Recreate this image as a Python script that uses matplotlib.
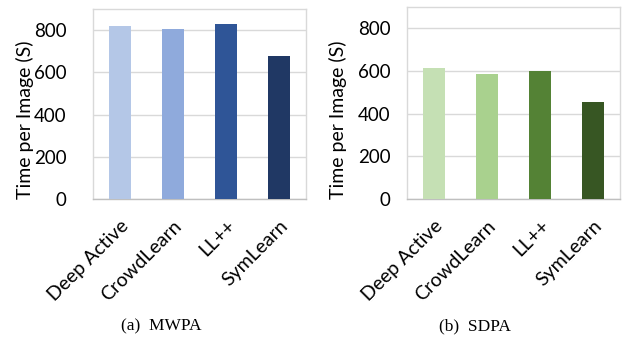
import matplotlib.pyplot as plt
import numpy as np

# --- DATA ---
methods = ['Deep Active', 'CrowdLearn', 'LL++', 'SymLearn']
mwpa_times = [819, 805, 830, 677]
sdpa_times = [612, 587, 599, 456]
y_ticks = [0, 200, 400, 600, 800]
captions = ['(a)  MWPA', '(b)  SDPA']

blues = ['#B4C7E7', '#8FAADC', '#2F5597', '#203864']
greens = ['#C5E0B4', '#A9D18E', '#548235', '#375623']

W, H = 622, 341
fig = plt.figure(figsize=(W / 100, H / 100), dpi=100)

# axes boxes in pixels: left, top, right, bottom
boxes = [(93, 9, 306, 199), (407, 7, 620, 199)]
ypads = [19, 12]
cap_x = [161, 475]
label_x = [34, 347]

for (l, t, r, b), vals, cols, cap, yp, cx, lx in zip(
        boxes, [mwpa_times, sdpa_times], [blues, greens], captions, ypads, cap_x, label_x):
    ax = fig.add_axes([l / W, 1 - b / H, (r - l) / W, (b - t) / H])
    x = np.arange(len(methods))
    ax.bar(x, vals, width=0.41, color=cols, zorder=3)
    ax.set_xlim(-0.5, len(methods) - 0.5)
    ax.set_ylim(0, 900)
    ax.set_yticks(y_ticks)
    ax.set_yticklabels([str(v) for v in y_ticks], fontsize=13.5, family='Lato')
    ax.set_xticks(x)
    ax.set_xticklabels(methods, rotation=45, ha='right', rotation_mode='anchor',
                       fontsize=14, family='Lato')
    ax.tick_params(axis='x', length=0, pad=13)
    ax.tick_params(axis='y', length=0, pad=yp)
    ax.yaxis.grid(True, color='#D9D9D9', linewidth=1, zorder=0)
    for s in ax.spines.values():
        s.set_color('#D9D9D9')
        s.set_linewidth(1)
    ax.spines['bottom'].set_color('#BFBFBF')
    ax.set_ylabel('Time per Image (S)', fontsize=14, family='Lato')
    ax.yaxis.set_label_coords((lx - l) / (r - l), (b - 120) / (b - t))
    fig.text(cx / W, 1 - 326 / H, cap, ha='center', va='center',
             fontsize=12.5, family='Liberation Serif')

fig.savefig('out.png', dpi=100)
